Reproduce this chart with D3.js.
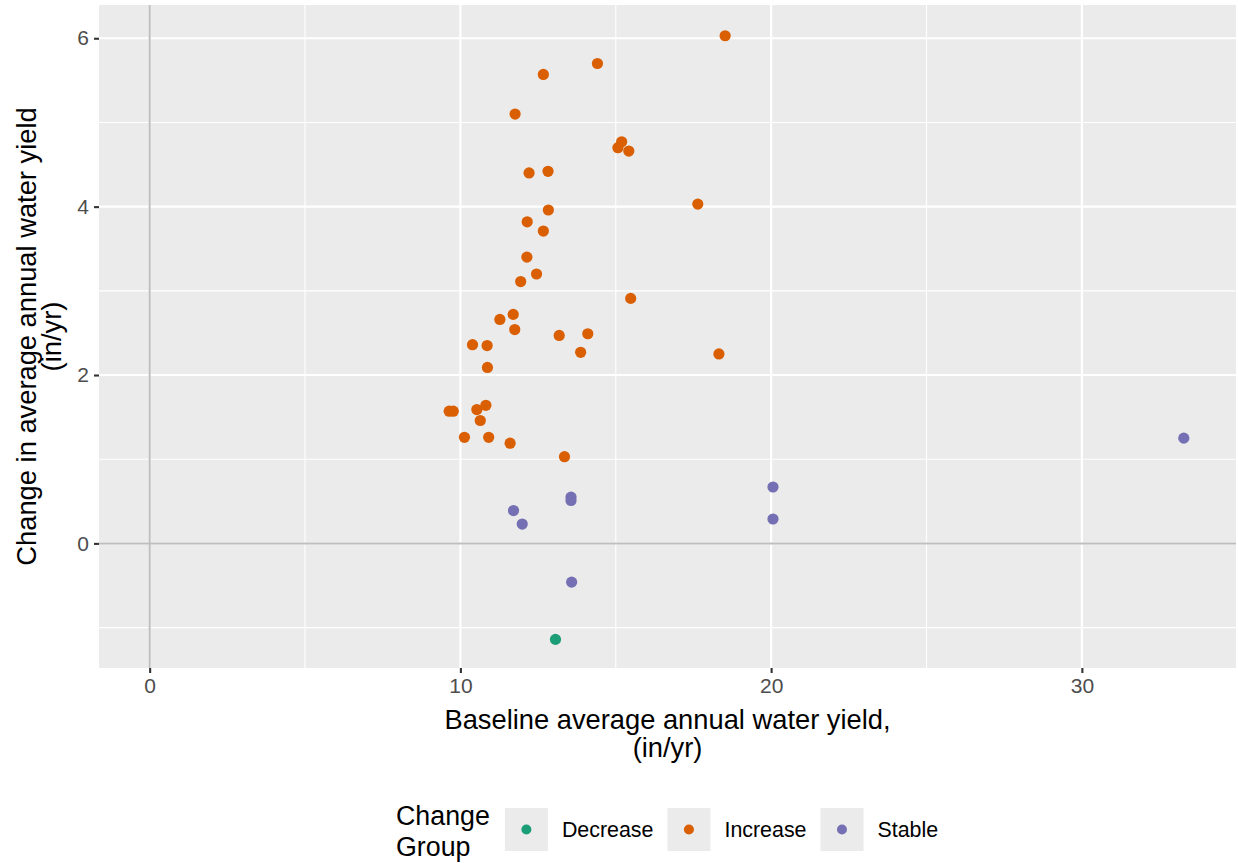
<!DOCTYPE html>
<html>
<head>
<meta charset="utf-8">
<script src="https://cdn.jsdelivr.net/npm/d3@7"></script>
<style>
  html, body { margin: 0; padding: 0; background: #ffffff; }
  svg { display: block; font-family: "Liberation Sans", Arial, sans-serif; }
</style>
</head>
<body>
<svg id="chart" width="1238" height="863"></svg>
<script>
// Baseline (x) and change (y) in average annual water yield, in/yr, by group
const increaseX = [18.52, 14.41, 12.67, 11.76, 15.19, 15.07, 15.42, 12.21, 12.82, 17.64,
                   12.15, 12.83, 12.67, 12.14, 12.45, 11.94, 15.48, 11.27, 11.70, 11.75,
                   13.18, 14.10, 13.87, 18.32, 10.39, 10.86, 10.87, 9.64, 9.77, 10.53,
                   10.82, 10.64, 10.13, 10.91, 11.60, 13.35];
const increaseY = [6.03, 5.70, 5.57, 5.10, 4.77, 4.70, 4.66, 4.40, 4.42, 4.03,
                   3.82, 3.96, 3.71, 3.40, 3.20, 3.11, 2.91, 2.66, 2.72, 2.54,
                   2.47, 2.49, 2.27, 2.25, 2.36, 2.35, 2.09, 1.57, 1.57, 1.59,
                   1.64, 1.46, 1.26, 1.26, 1.19, 1.03];
const stableX = [13.56, 13.56, 11.71, 11.99, 13.58, 20.06, 20.06, 33.28];
const stableY = [0.55, 0.51, 0.39, 0.23, -0.46, 0.67, 0.29, 1.25];
const decreaseX = [13.06];
const decreaseY = [-1.14];

const groups = ["Decrease", "Increase", "Stable"];
const groupColors = ["#1B9E77", "#D95F02", "#7570B3"];
const xTicks = [0, 10, 20, 30];
const yTicks = [0, 2, 4, 6];
const xMinor = [5, 15, 25];
const yMinor = [-1, 1, 3, 5];

const xTitle = ["Baseline average annual water yield,", "(in/yr)"];
const yTitle = ["Change in average annual water yield", "(in/yr)"];
const legendTitle = ["Change", "Group"];

const svg = d3.select("#chart");
const panel = { left: 99, right: 1236, top: 5, bottom: 668 };

const x = d3.scaleLinear().domain([-1.63, 34.96]).range([panel.left, panel.right]);
const y = d3.scaleLinear().domain([-1.48, 6.395]).range([panel.bottom, panel.top]);
const color = d3.scaleOrdinal().domain(groups).range(groupColors);

const zip = (xs, ys, g) => xs.map((v, i) => ({ x: v, y: ys[i], group: g }));
const points = [
  ...zip(decreaseX, decreaseY, "Decrease"),
  ...zip(increaseX, increaseY, "Increase"),
  ...zip(stableX, stableY, "Stable")
];

// panel background
svg.append("rect")
  .attr("x", panel.left).attr("y", panel.top)
  .attr("width", panel.right - panel.left).attr("height", panel.bottom - panel.top)
  .attr("fill", "#EBEBEB");

const grid = svg.append("g");
// minor grid
grid.selectAll(".vminor").data(xMinor).join("line")
  .attr("x1", d => x(d)).attr("x2", d => x(d))
  .attr("y1", panel.top).attr("y2", panel.bottom)
  .attr("stroke", "#ffffff").attr("stroke-width", 1.1);
grid.selectAll(".hminor").data(yMinor).join("line")
  .attr("y1", d => y(d)).attr("y2", d => y(d))
  .attr("x1", panel.left).attr("x2", panel.right)
  .attr("stroke", "#ffffff").attr("stroke-width", 1.1);
// major grid
grid.selectAll(".vmajor").data(xTicks).join("line")
  .attr("x1", d => x(d)).attr("x2", d => x(d))
  .attr("y1", panel.top).attr("y2", panel.bottom)
  .attr("stroke", "#ffffff").attr("stroke-width", 2.2);
grid.selectAll(".hmajor").data(yTicks).join("line")
  .attr("y1", d => y(d)).attr("y2", d => y(d))
  .attr("x1", panel.left).attr("x2", panel.right)
  .attr("stroke", "#ffffff").attr("stroke-width", 2.2);

// reference lines at zero
svg.append("line")
  .attr("x1", x(0)).attr("x2", x(0)).attr("y1", panel.top).attr("y2", panel.bottom)
  .attr("stroke", "#BEBEBE").attr("stroke-width", 2);
svg.append("line")
  .attr("y1", y(0)).attr("y2", y(0)).attr("x1", panel.left).attr("x2", panel.right)
  .attr("stroke", "#BEBEBE").attr("stroke-width", 2);

// points
svg.append("g").selectAll("circle").data(points).join("circle")
  .attr("cx", d => x(d.x)).attr("cy", d => y(d.y)).attr("r", 5.6)
  .attr("fill", d => color(d.group));

// axes
const xAxis = svg.append("g")
  .attr("transform", `translate(0,${panel.bottom})`)
  .call(d3.axisBottom(x).tickValues(xTicks).tickSize(5).tickPadding(5).tickFormat(d3.format("d")));
const yAxis = svg.append("g")
  .attr("transform", `translate(${panel.left},0)`)
  .call(d3.axisLeft(y).tickValues(yTicks).tickSize(5).tickPadding(5).tickFormat(d3.format("d")));
[xAxis, yAxis].forEach(a => {
  a.select(".domain").remove();
  a.selectAll(".tick line").attr("stroke", "#333333").attr("stroke-width", 2.1);
  a.selectAll(".tick text").attr("fill", "#4D4D4D")
    .style("font-size", "21px").style("font-family", "'Liberation Sans', Arial, sans-serif");
});

// axis titles
const xt = svg.append("text").attr("text-anchor", "middle")
  .style("font-size", "27.3px").attr("fill", "#000");
xTitle.forEach((t, i) => xt.append("tspan")
  .attr("x", (panel.left + panel.right) / 2).attr("y", 729 + i * 28).text(t));

const yc = (panel.top + panel.bottom) / 2;
const yt = svg.append("text").attr("text-anchor", "middle")
  .attr("transform", `translate(0,${yc}) rotate(-90)`)
  .style("font-size", "27.3px").attr("fill", "#000");
yTitle.forEach((t, i) => yt.append("tspan")
  .attr("x", 0).attr("y", 35.5 + i * 25).text(t));

// legend: two-line title, then key boxes with labels
const legend = svg.append("g");
let titleWidth = 0;
legendTitle.forEach((t, i) => {
  const line = legend.append("text").attr("x", 396).attr("y", 825 + i * 31)
    .style("font-size", "26.8px").attr("fill", "#000").text(t);
  titleWidth = Math.max(titleWidth, line.node().getComputedTextLength());
});
let cursor = 396 + titleWidth + 15;
const keySize = 43, keyTop = 808;
groups.forEach(g => {
  legend.append("rect").attr("x", cursor).attr("y", keyTop)
    .attr("width", keySize).attr("height", keySize).attr("fill", "#EBEBEB");
  legend.append("circle").attr("cx", cursor + keySize / 2).attr("cy", keyTop + keySize / 2)
    .attr("r", 5).attr("fill", color(g));
  const tx = legend.append("text").attr("x", cursor + keySize + 14).attr("y", keyTop + keySize / 2)
    .attr("dy", "0.35em").style("font-size", "21.4px").attr("fill", "#000").text(g);
  cursor = cursor + keySize + 14 + tx.node().getComputedTextLength() + 14;
});
</script>
</body>
</html>
